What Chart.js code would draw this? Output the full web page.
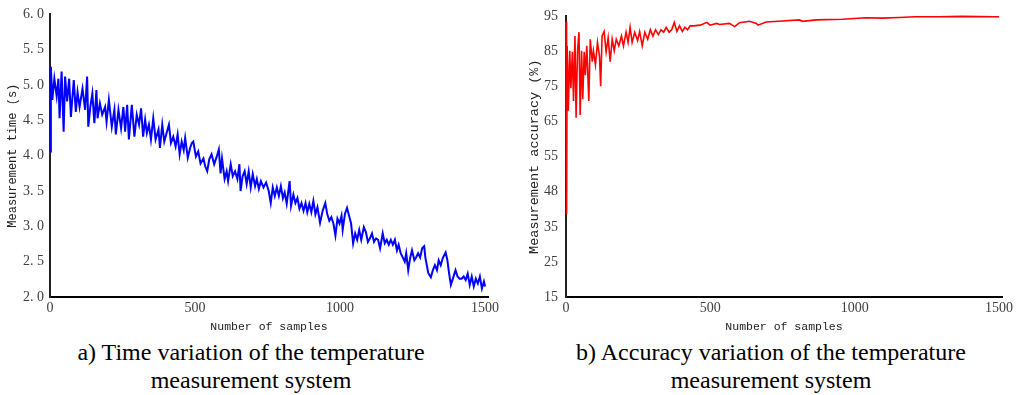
<!DOCTYPE html>
<html>
<head>
<meta charset="utf-8">
<script src="https://cdn.jsdelivr.net/npm/chart.js@4.4.1/dist/chart.umd.min.js"></script>
<style>
body{margin:0;background:#fff;width:1019px;height:395px;position:relative;overflow:hidden}
canvas{position:absolute;top:0}
.cap{position:absolute;top:338px;width:520px;text-align:center;font-family:"Liberation Serif","Times New Roman",serif;font-size:24px;line-height:28px;color:#000}
</style>
</head>
<body>
<canvas id="timeChart" width="505" height="338" style="left:0"></canvas>
<canvas id="accChart" width="499" height="338" style="left:520px"></canvas>
<div class="cap" style="left:-9px">a) Time variation of the temperature<br>measurement system</div>
<div class="cap" style="left:511px">b) Accuracy variation of the temperature<br>measurement system</div>
<script>
// values

const timeX = [0,3,8,15,23,29,33,40,47,52,59,66,72,82,89,95,102,112,121,128,132,139,146,153,160,164,172,180,190,195,203,213,222,227,236,245,253,259,266,272,282,291,299,307,314,321,328,334,341,348,356,364,374,379,387,394,402,410,417,425,433,440,447,454,461,466,475,483,489,494,503,511,519,529,535,542,549,557,566,575,582,588,593,602,609,614,623,630,638,646,653,657,664,671,678,685,692,699,707,713,720,727,736,745,754,761,768,775,782,789,796,803,809,816,826,831,839,846,853,860,867,874,881,887,894,901,908,915,922,931,940,949,956,963,970,977,984,991,998,1005,1009,1017,1024,1031,1038,1045,1052,1059,1066,1073,1082,1089,1096,1103,1110,1117,1124,1131,1138,1147,1154,1161,1168,1175,1182,1189,1196,1202,1209,1216,1223,1228,1235,1242,1248,1256,1262,1269,1276,1283,1290,1294,1304,1313,1320,1327,1334,1340,1347,1354,1364,1370,1375,1382,1389,1398,1405,1412,1419,1426,1433,1440,1447,1454,1461,1468,1475,1482,1489,1496,1500]
const timeY = [4.06,5.26,4.79,5.09,4.84,5.09,4.53,5.19,4.34,5.12,4.77,5.09,4.55,5.07,4.62,4.90,4.69,4.95,4.65,5.12,4.41,4.69,4.88,4.46,4.93,4.53,4.74,4.58,4.69,4.48,4.79,4.41,4.65,4.30,4.65,4.39,4.69,4.34,4.72,4.23,4.72,4.27,4.58,4.44,4.67,4.27,4.51,4.32,4.44,4.23,4.53,4.23,4.37,4.11,4.44,4.20,4.32,4.44,4.18,4.27,4.13,4.30,4.02,4.20,4.08,4.25,3.97,4.11,4.18,4.20,3.99,4.06,3.89,3.96,3.85,3.78,3.95,4.02,3.88,3.99,4.09,3.75,3.96,3.67,3.78,3.64,3.88,3.71,3.78,3.67,3.88,3.50,3.71,3.78,3.60,3.78,3.55,3.74,3.57,3.67,3.53,3.64,3.55,3.62,3.50,3.33,3.55,3.43,3.55,3.43,3.57,3.40,3.48,3.32,3.64,3.29,3.45,3.33,3.40,3.25,3.33,3.22,3.33,3.20,3.32,3.20,3.36,3.17,3.27,3.05,3.22,3.33,3.17,3.08,3.13,3.04,2.87,3.11,3.04,3.15,2.95,3.18,3.26,3.15,3.04,2.76,2.90,2.81,2.95,2.81,2.99,2.92,2.78,2.83,2.90,2.78,2.83,2.81,2.69,2.90,2.76,2.81,2.74,2.81,2.74,2.81,2.66,2.74,2.62,2.56,2.50,2.62,2.38,2.56,2.66,2.52,2.56,2.62,2.56,2.69,2.72,2.56,2.34,2.28,2.38,2.45,2.38,2.52,2.45,2.55,2.63,2.52,2.36,2.17,2.26,2.38,2.29,2.26,2.26,2.29,2.24,2.33,2.17,2.29,2.15,2.26,2.19,2.29,2.12,2.22,2.15]

const accX = [0,2,4,8,13,17,22,26,31,35,40,45,49,54,58,63,67,72,79,84,91,95,102,109,116,120,125,132,139,146,153,160,167,174,183,192,199,208,215,222,229,238,248,255,264,273,283,292,301,310,320,329,338,347,357,366,375,384,393,403,412,421,430,442,465,488,499,522,532,566,584,601,636,659,665,693,750,808,820,866,958,1038,1096,1153,1210,1291,1371,1486,1500]
const accY = [93.5,38.6,86.6,68.1,85.2,74.5,84.9,70.9,89.4,66.1,85.2,90.5,66.9,85.2,71.4,84.9,78.2,86.6,70.9,88.5,82.1,85.2,81.2,87.6,83.7,75.1,89.4,90.7,84.9,88.9,82.1,88.5,85.2,88.5,86.6,89.4,86.6,90.5,87.6,91.9,87.6,90.5,88.1,90.7,86.6,90.5,88.5,91.2,89.4,91.2,89.8,91.2,90.5,91.9,90.5,91.2,93.3,90.7,92.3,90.7,91.9,91.2,92.3,92.3,92.5,93.3,92.5,93.0,92.7,93.0,92.1,93.2,93.6,93.0,92.5,93.4,93.7,94.0,93.6,94.0,94.2,94.6,94.5,94.7,94.9,94.9,95.0,94.9,94.9]

const xTickValues = [0, 500, 1000, 1500]
const timeTickLabels = ['2. 0','2. 5','3. 0','3. 5','4. 0','4. 5','5. 0','5. 5','6. 0']
const accTickLabels = ['15','25','35','48','55','65','75','85','95']

const tickFont = {family: '"Liberation Serif", "Times New Roman", serif', size: 14}
const titleFamily = '"Liberation Mono", monospace'

function makeChart(id, xs, ys, color, lineWidth, yMin, yMax, yStep, yLabels, yTitle, yTitleSize, yWidth, yPad) {

const ctx = document.getElementById(id).getContext("2d")

return new Chart(ctx, {
type: "line",
data: {
datasets: [{
data: xs.map((x, i) => ({x: x, y: ys[i]})),
borderColor: color,
borderWidth: lineWidth,
pointRadius: 0,
tension: 0,
clip: false
}]
},
options: {
responsive: false,
animation: false,
devicePixelRatio: 1,
layout: {padding: {top: 12, right: 17, left: 0, bottom: 0}},
plugins: {legend: {display: false}, tooltip: {enabled: false}},
scales: {
x: {
type: "linear",
min: 0,
max: 1510,
grid: {display: false, drawTicks: false},
border: {display: true, color: "#000", width: 2},
afterBuildTicks: s => { s.ticks = xTickValues.map(v => ({value: v})) },
ticks: {padding: 3, color: "#404040", font: tickFont, maxRotation: 0, autoSkip: false, callback: v => String(v)},
title: {display: true, text: "Number of samples", color: "#222", font: {family: titleFamily, size: 11.5}, padding: {top: 4, bottom: 4}},
afterFit: s => { s.height = 41 }
},
y: {
min: yMin,
max: yMax,
grid: {display: false, drawTicks: false},
border: {display: true, color: "#222", width: 2},
ticks: {
stepSize: yStep,
padding: yPad,
color: "#404040",
font: tickFont,
callback: v => yLabels[Math.round((v - yMin) / yStep)]
},
title: {display: true, text: yTitle, color: "#222", font: {family: titleFamily, size: yTitleSize}, padding: {top: 6, bottom: 4}},
afterFit: s => { s.width = yWidth }
}
}
}
})

}

makeChart("timeChart", timeX, timeY, "#0000ff", 2, 2, 6, 0.5, timeTickLabels, "Measurement time (s)", 12, 50, 6)
makeChart("accChart", accX, accY, "#ff0000", 1.6, 15, 95, 10, accTickLabels, "Measurement accuracy (%)", 13.5, 46, 8)
</script>
</body>
</html>
